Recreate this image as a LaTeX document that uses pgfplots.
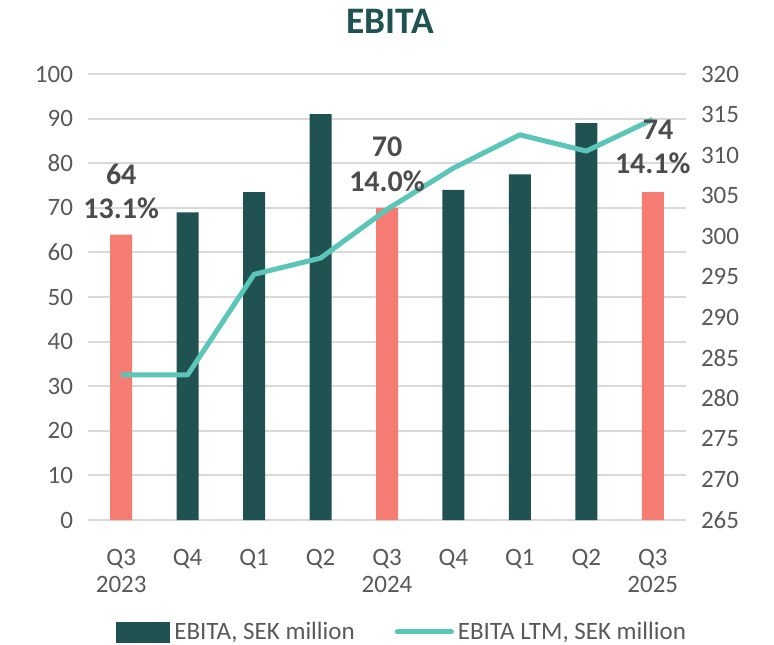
\documentclass[border=0pt]{standalone}
\usepackage{fontspec}
\setmainfont{Carlito}
\usepackage{pgfplots}
\pgfplotsset{compat=1.18}
\definecolor{dteal}{HTML}{1F5250}
\definecolor{salmon}{HTML}{F47C72}
\definecolor{ltm}{HTML}{5BC5B7}
\definecolor{txt}{HTML}{595959}
\definecolor{grd}{HTML}{D9D9D9}
\begin{document}
\begin{tikzpicture}[x=0.5pt,y=0.5pt]
\useasboundingbox (0,0) rectangle (774,644);
\node[font=\fontsize{18.7}{21}\selectfont\bfseries, text=dteal] at (390,623) {EBITA};
\pgfplotsset{
  common/.style={
    scale only axis, width=299pt, height=223pt,
    at={(44pt,62pt)}, anchor=south west,
    xmin=-0.5, xmax=8.5,
    axis line style={draw=none},
    y axis line style={draw=none},
    x axis line style={draw=none},
    tick style={draw=none},
    /pgf/number format/assume math mode=true,
    tick label style={font=\fontsize{12.5}{13.5}\selectfont, text=txt},
  }
}
\begin{axis}[common,
  ymin=0, ymax=100, ytick={0,10,...,100},
  ymajorgrids, grid style={grd, line width=1pt},
  xtick={0,...,8},
  xticklabels={{Q3\\2023},Q4,Q1,Q2,{Q3\\2024},Q4,Q1,Q2,{Q3\\2025}},
  xticklabel style={align=center, anchor=north, yshift=-7pt},
  yticklabel style={xshift=-4pt},
  ybar, bar width=11pt,
]
\addplot[fill=dteal, draw=none, bar shift=0pt] coordinates {(1,69) (2,73.5) (3,91) (5,74) (6,77.5) (7,89)};
\addplot[fill=salmon, draw=none, bar shift=0pt] coordinates {(0,64) (4,70) (8,73.5)};
\end{axis}
\begin{axis}[common,
  ymin=265, ymax=320, ytick={265,270,...,320},
  axis y line*=right, xtick=\empty, clip=false,
  yticklabel style={xshift=4pt},
  legend style={at={(0.527,-0.251)}, anchor=center, draw=none, fill=none,
    legend columns=2, font=\fontsize{12.5}{13.5}\selectfont, text=txt,
    /tikz/every even column/.append style={column sep=18pt}},
]
\addlegendimage{area legend, fill=dteal, draw=none, legend image code/.code={\fill[dteal] (0cm,-0.2cm) rectangle (0.95cm,0.18cm);}}
\addlegendentry{EBITA, SEK million}
\addplot[ltm, line width=2.5pt, line join=round, legend image code/.code={\draw[ltm, line width=2.5pt, line cap=round] (0cm,0cm) -- (0.95cm,0cm);}] coordinates {
(0,282.9) (1,282.9) (2,295.3) (3,297.3) (4,303.3) (5,308.4) (6,312.5) (7,310.5) (8,314.4)};
\addlegendentry{EBITA LTM, SEK million}
% labels: left-axis values converted to right-axis scale (y_r = 265 + 0.55*y_l)
\tikzset{lbl/.style={font=\fontsize{15}{17}\selectfont\bfseries, text=txt!85!black}}
\node[lbl] at (axis cs:0,307.68) {64};
\node[lbl] at (axis cs:0,303.5) {13.1\%};
\node[lbl] at (axis cs:4,310.98) {70};
\node[lbl] at (axis cs:4,306.8) {14.0\%};
\node[lbl] at (axis cs:8.08,313.07) {74};
\node[lbl] at (axis cs:8,309) {14.1\%};
\end{axis}
\end{tikzpicture}
\end{document}
